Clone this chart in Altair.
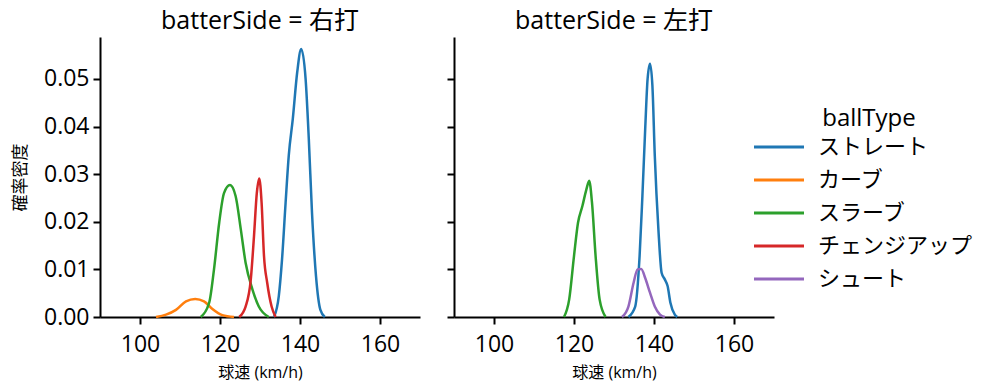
import altair as alt
import pandas as pd

FONT = "Open Sans, Noto Sans CJK JP"
CJK = "Noto Sans CJK JP"

ball_types = ["ストレート", "カーブ", "スラーブ", "チェンジアップ", "シュート"]
colors = ["#1f77b4", "#ff7f0e", "#2ca02c", "#d62728", "#9467bd"]

# 右打 (vs right-handed batters): curve points
r_straight_x = [133.5, 134.7, 135.5, 136.4, 137.2, 138.2, 139.3, 140.3, 141.4, 142.2, 143.0, 144.0, 145.1, 146.2]
r_straight_y = [0.0, 0.0044, 0.012, 0.024, 0.034, 0.0416, 0.0514, 0.0563, 0.050, 0.0374, 0.0219, 0.0086, 0.0015, 0.0]
r_curve_x = [104.0, 106.5, 109.0, 111.5, 113.8, 116.0, 118.1, 120.6, 123.5]
r_curve_y = [0.0, 0.0005, 0.0015, 0.0033, 0.0038, 0.0033, 0.0017, 0.0004, 0.0]
r_slurve_x = [115.2, 117.3, 118.5, 119.8, 121.0, 122.5, 123.9, 125.2, 126.4, 128.1, 129.7, 132.2]
r_slurve_y = [0.0, 0.003, 0.010, 0.0198, 0.026, 0.0277, 0.0254, 0.0184, 0.0114, 0.0058, 0.0022, 0.0]
r_change_x = [124.8, 126.4, 127.7, 128.5, 129.2, 129.8, 130.4, 131.0, 131.8, 132.9, 133.9]
r_change_y = [0.0, 0.0022, 0.0079, 0.017, 0.026, 0.0291, 0.024, 0.0128, 0.0072, 0.0022, 0.0]

# 左打 (vs left-handed batters)
l_straight_x = [133.6, 135.3, 136.4, 137.1, 137.8, 138.4, 139.0, 139.6, 140.2, 141.1, 141.9, 142.7, 143.4, 144.1, 145.2, 145.8]
l_straight_y = [0.0, 0.0022, 0.0128, 0.0254, 0.0395, 0.050, 0.0532, 0.0486, 0.0338, 0.0184, 0.0093, 0.0079, 0.0065, 0.003, 0.0005, 0.0]
l_slurve_x = [117.5, 118.8, 120.0, 121.0, 122.1, 123.1, 123.8, 124.5, 125.4, 126.4, 127.9]
l_slurve_y = [0.0, 0.0037, 0.0128, 0.0198, 0.0233, 0.0268, 0.0286, 0.024, 0.0128, 0.0037, 0.0]
l_shoot_x = [132.0, 133.6, 134.9, 135.9, 136.8, 137.8, 139.0, 140.2, 141.5, 142.7]
l_shoot_y = [0.0, 0.0022, 0.0072, 0.010, 0.0101, 0.0082, 0.0051, 0.0022, 0.0005, 0.0]

def frame(side, bt, xs, ys):
    return pd.DataFrame({"side": side, "ballType": bt, "speed": xs, "density": ys})

right_df = pd.concat([
    frame("右打", "ストレート", r_straight_x, r_straight_y),
    frame("右打", "カーブ", r_curve_x, r_curve_y),
    frame("右打", "スラーブ", r_slurve_x, r_slurve_y),
    frame("右打", "チェンジアップ", r_change_x, r_change_y),
])
left_df = pd.concat([
    frame("左打", "ストレート", l_straight_x, l_straight_y),
    frame("左打", "スラーブ", l_slurve_x, l_slurve_y),
    frame("左打", "シュート", l_shoot_x, l_shoot_y),
])

color_scale = alt.Scale(domain=ball_types, range=colors)

def panel(df, title, show_labels):
    yaxis = alt.Axis(values=[0, 0.01, 0.02, 0.03, 0.04, 0.05], format=".2f",
                     labels=show_labels, title="確率密度" if show_labels else None,
                     titleFontSize=17, titlePadding=14)
    return alt.Chart(df).mark_line(strokeWidth=2.5, interpolate="monotone").encode(
        x=alt.X("speed:Q", scale=alt.Scale(domain=[90, 170], nice=False),
                axis=alt.Axis(values=[100, 120, 140, 160], format="d", title="球速 (km/h)",
                              labelPadding=9, titlePadding=8)),
        y=alt.Y("density:Q", scale=alt.Scale(domain=[0, 0.0588], nice=False), axis=yaxis),
        color=alt.Color("ballType:N", scale=color_scale, sort=ball_types,
                        legend=alt.Legend(title="ballType", symbolType="M-2,0H2",
                                          symbolStrokeWidth=3, symbolSize=625,
                                          orient="none", legendX=665, legendY=70,
                                          rowPadding=8, titleAnchor="middle",
                                          labelFontSize=22, titleFontSize=24,
                                          labelFont=CJK, titleFont=FONT,
                                          labelOffset=25,
                                          titleFontWeight="normal", titlePadding=2,
                                          labelColor="black", titleColor="black")),
        detail="ballType:N",
    ).properties(
        width=320, height=280,
        title=alt.TitleParams(title, fontSize=25, fontWeight="normal", font=FONT, color="black", offset=3),
    )

chart = alt.hconcat(
    panel(right_df, "batterSide = 右打", True),
    panel(left_df, "batterSide = 左打", False),
    spacing=26,
).properties(
    background="white",
    padding={"left": 3, "top": 1, "right": 5, "bottom": 5},
).configure_view(stroke=None).configure_axis(
    grid=False, domainColor="black", domainWidth=2, tickColor="black", tickWidth=2,
    tickSize=7, labelFont=FONT, labelFontSize=23, labelColor="black",
    titleFont=FONT, titleFontSize=16, titleFontWeight="normal", titleColor="black",
    labelPadding=4,
)

chart.save("out.html", embed_options={"renderer": "svg", "actions": False})
